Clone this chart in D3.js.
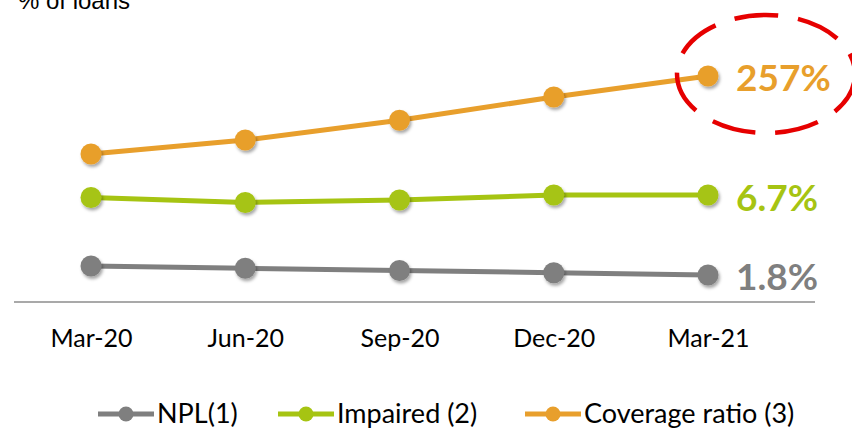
<!DOCTYPE html>
<html>
<head>
<meta charset="utf-8">
<script src="https://cdn.jsdelivr.net/npm/d3@7"></script>
<style>
  body { margin: 0; background: #fff; }
  svg text { font-family: Lato, "Open Sans", sans-serif; }
</style>
</head>
<body>
<svg width="852" height="429"></svg>
<script>
const quarters = ["Mar-20", "Jun-20", "Sep-20", "Dec-20", "Mar-21"];
const npl = [2.2, 2.1, 2.0, 1.9, 1.8];
const impaired = [6.6, 6.4, 6.5, 6.7, 6.7];
const coverage = [190, 202, 219, 239, 257];
const endLabels = ["1.8%", "6.7%", "257%"];
const legendNames = ["NPL(1)", "Impaired (2)", "Coverage ratio (3)"];

const svg = d3.select("svg");

// soft shadow under markers
const defs = svg.append("defs");
const f = defs.append("filter").attr("id", "sh").attr("x", "-50%").attr("y", "-50%").attr("width", "200%").attr("height", "200%");
f.append("feDropShadow").attr("dx", 1.5).attr("dy", 2.5).attr("stdDeviation", 1.8).attr("flood-color", "#000").attr("flood-opacity", 0.35);

const x = d3.scalePoint().domain(quarters).range([91, 708]);

// each series sits on its own (hidden) axis
const series = [
  { name: legendNames[0], values: npl, color: "#7f7f7f", label: endLabels[0],
    y: d3.scaleLinear().domain([1.8, 2.2]).range([275, 266]), labelY: 290 },
  { name: legendNames[1], values: impaired, color: "#a6c412", label: endLabels[1],
    y: d3.scaleLinear().domain([6.4, 6.7]).range([202.5, 195]), labelY: 211 },
  { name: legendNames[2], values: coverage, color: "#e89f2c", label: endLabels[2],
    y: d3.scaleLinear().domain([190, 257]).range([154, 76]), labelY: 91 }
];

// title (cut by the top edge, as in the source)
svg.append("text")
  .attr("x", 18).attr("y", 9)
  .style("font-family", "'Liberation Sans', Arial, sans-serif")
  .style("font-size", "24px")
  .attr("fill", "#000")
  .text("% of loans");

// baseline
svg.append("line")
  .attr("x1", 14).attr("x2", 815).attr("y1", 302).attr("y2", 302)
  .attr("stroke", "#8c8c8c").attr("stroke-width", 1.5);

// x axis labels
const xAxis = svg.append("g").attr("transform", "translate(0,302)")
  .call(d3.axisBottom(x).tickSize(0).tickPadding(27));
xAxis.select(".domain").remove();
xAxis.selectAll("text")
  .style("font-size", "25px")
  .style("font-family", "Lato, sans-serif")
  .attr("fill", "#000");

// lines + markers
series.forEach(s => {
  const line = d3.line().x((d, i) => x(quarters[i])).y(d => s.y(d));
  svg.append("path")
    .datum(s.values)
    .attr("d", line)
    .attr("fill", "none")
    .attr("stroke", s.color)
    .attr("stroke-width", 5);
  svg.append("g").selectAll("circle")
    .data(s.values)
    .join("circle")
    .attr("cx", (d, i) => x(quarters[i]))
    .attr("cy", d => s.y(d))
    .attr("r", 10.5)
    .attr("fill", s.color)
    .attr("filter", "url(#sh)");
  svg.append("text")
    .attr("x", 736).attr("y", s.labelY)
    .style("font-size", "37px")
    .style("font-weight", "bold")
    .attr("fill", s.color)
    .text(s.label);
});

// red dashed highlight
svg.append("ellipse")
  .attr("cx", 766).attr("cy", 74).attr("rx", 89).attr("ry", 59)
  .attr("fill", "none")
  .attr("stroke", "#e60000")
  .attr("stroke-width", 4.5)
  .attr("stroke-dasharray", "44,20");

// legend
const legendX = [98, 278, 525];
const lg = svg.append("g");
series.forEach((s, i) => {
  const g = lg.append("g").attr("transform", `translate(${legendX[i]},414)`);
  g.append("line").attr("x1", 0).attr("x2", 56).attr("stroke", s.color).attr("stroke-width", 5);
  g.append("circle").attr("cx", 28).attr("r", 7.5).attr("fill", s.color);
  g.append("text").attr("x", 59).attr("y", 9)
    .style("font-size", "27px").attr("fill", "#000").text(s.name);
});
</script>
</body>
</html>
